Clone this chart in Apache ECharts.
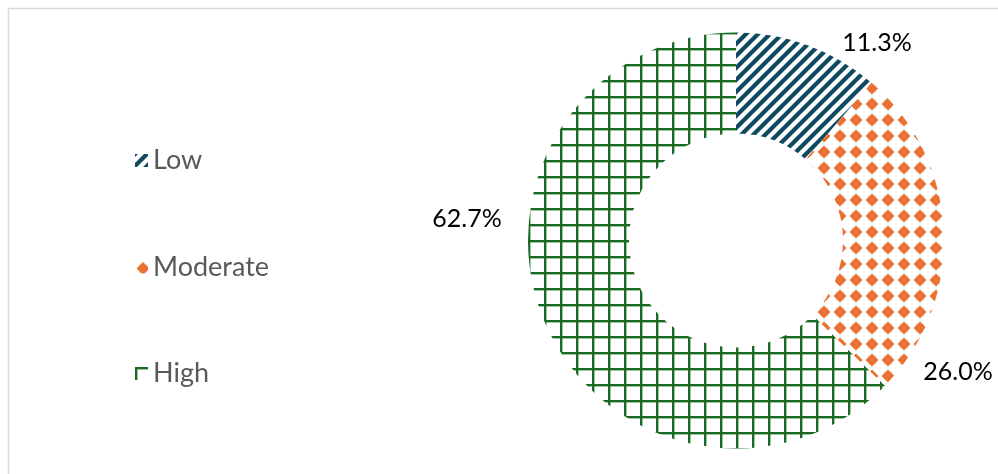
<!DOCTYPE html>
<html>
<head>
<meta charset="utf-8">
<script src="https://cdn.jsdelivr.net/npm/echarts@6/dist/echarts.min.js"></script>
<style>
html,body{margin:0;padding:0;background:#fff;}
#chart{width:998px;height:474px;}
</style>
</head>
<body>
<div id="chart"></div>
<script>
const categories = ['Low', 'Moderate', 'High'];
const values = [11.3, 26.0, 62.7];
const labelTexts = ['11.3%', '26.0%', '62.7%'];

function stripePattern(color) {
  const c = document.createElement('canvas');
  const s = 12;
  c.width = s; c.height = s;
  const g = c.getContext('2d');
  g.strokeStyle = color; g.lineWidth = 4.2; g.lineCap = 'square';
  for (let k = -1; k <= 1; k++) {
    g.beginPath();
    g.moveTo(k * s - 2, s + 2);
    g.lineTo(k * s + s + 2, -2);
    g.stroke();
  }
  return c;
}
function diamondPattern(color) {
  const c = document.createElement('canvas');
  const s = 16;
  c.width = s; c.height = s;
  const g = c.getContext('2d');
  g.fillStyle = color;
  const cx = 8, cy = 8, r = 6.5;
  g.beginPath();
  g.moveTo(cx, cy - r); g.lineTo(cx + r, cy); g.lineTo(cx, cy + r); g.lineTo(cx - r, cy);
  g.closePath(); g.fill();
  g.fillRect(cx - 3.5, cy - 3.5, 7, 7);
  return c;
}
function gridPattern(color) {
  const c = document.createElement('canvas');
  const s = 16;
  c.width = s; c.height = s;
  const g = c.getContext('2d');
  g.fillStyle = color;
  g.fillRect(0, 0, 2.4, s);
  g.fillRect(0, 0, s, 2.4);
  return c;
}

const fills = [
  { image: stripePattern('#0F4A60'), repeat: 'repeat' },
  { image: diamondPattern('#E97132'), repeat: 'repeat' },
  { image: gridPattern('#196B24'), repeat: 'repeat' }
];
const labelPos = [[877, 43], [958, 372], [467, 219]];

const chart = echarts.init(document.getElementById('chart'), null, { renderer: 'canvas' });
chart.setOption({
  animation: false,
  backgroundColor: '#fff',
  graphic: [{
    type: 'rect', silent: true,
    shape: { x: 8.5, y: 8.5, width: 1100, height: 600 },
    style: { fill: 'none', stroke: '#D9D9D9', lineWidth: 1.5 }
  }],
  legend: {
    orient: 'vertical',
    left: 130, top: 142,
    itemGap: 79.5,
    itemWidth: 13, itemHeight: 13,
    icon: 'rect',
    textStyle: { color: '#595959', fontSize: 27, fontFamily: 'Lato, "Noto Sans", sans-serif', padding: [0, 0, 0, 0] },
    data: categories
  },
  series: [{
    type: 'pie',
    center: [736, 240.5],
    radius: [107, 208],
    startAngle: 90,
    clockwise: true,
    avoidLabelOverlap: false,
    itemStyle: { borderWidth: 0 },
    label: {
      show: true,
      position: 'outside',
      color: '#000',
      fontSize: 25,
      fontFamily: 'Lato, "Noto Sans", sans-serif',
      formatter: p => labelTexts[p.dataIndex]
    },
    labelLine: { show: false },
    labelLayout: p => ({ x: labelPos[p.dataIndex][0], y: labelPos[p.dataIndex][1], align: 'center', verticalAlign: 'middle' }),
    emphasis: { disabled: true },
    data: categories.map((c, i) => ({ name: c, value: values[i], itemStyle: { color: fills[i] } }))
  }]
});
</script>
</body>
</html>
